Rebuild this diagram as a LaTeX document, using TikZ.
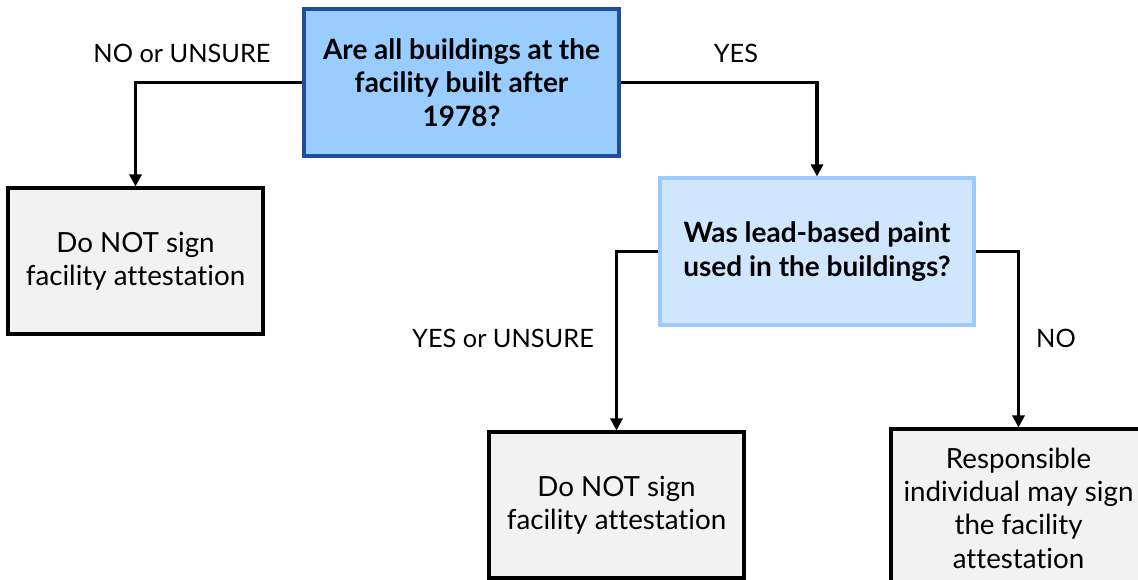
\documentclass[tikz,border=0pt]{standalone}
\usepackage{fontspec}
\setmainfont{Lato}[Ligatures={NoCommon,NoRare,NoContextual}]
\usetikzlibrary{arrows.meta}
\definecolor{qfill}{HTML}{99CCFF}
\definecolor{qdraw}{HTML}{1F4E9C}
\definecolor{q2fill}{HTML}{D0E6FF}
\definecolor{q2draw}{HTML}{9CCBFA}
\definecolor{gfill}{HTML}{F2F2F2}
\tikzset{
  box/.style={rectangle, line width=2.3pt, minimum width=255*0.75pt, minimum height=146*0.75pt, align=center, inner sep=2pt, font=\fontsize{20.8}{25}\selectfont},
  qbox/.style={box, fill=qfill, draw=qdraw, minimum width=315*0.75pt, minimum height=147*0.75pt, font=\bfseries\fontsize{21}{25.2}\selectfont},
  q2box/.style={box, fill=q2fill, draw=q2draw, minimum width=314*0.75pt, minimum height=147*0.75pt, font=\bfseries\fontsize{21}{25.2}\selectfont},
  gbox/.style={box, fill=gfill, draw=black},
  conn/.style={line width=2.4pt, -{Triangle[length=9pt,width=9pt]}},
  lab/.style={font=\fontsize{19}{22}\selectfont, inner sep=0pt}
}
\begin{document}
\begin{tikzpicture}[x=0.75pt,y=-0.75pt]
\useasboundingbox (0,0) rectangle (1138,580);
\node[qbox] (q1) at (461.5,82.5) {Are all buildings at the\\facility built after\\1978?};
\node[gbox] (n1) at (135.5,261) {Do NOT sign\\facility attestation};
\node[q2box] (q2) at (817,251.5) {Was lead-based paint\\used in the buildings?};
\node[gbox] (n2) at (616.5,505) {Do NOT sign\\facility attestation};
\node[gbox, minimum height=158*0.75pt] (y2) at (1018.5,508) {Responsible\\individual may sign\\the facility\\attestation};
\draw[conn] (q1.west) -| (n1.north);
\draw[conn] (q1.east) -| (q2.north);
\draw[conn] (q2.west) -| (n2.north);
\draw[conn] (q2.east) -| (y2.north);
\node[lab] (l1) at (182,53) {NO or UNSURE};
\node[lab] (l2) at (736,53) {YES};
\node[lab] (l3) at (503,338) {YES or UNSURE};
\node[lab] (l4) at (1056,338) {NO};
\end{tikzpicture}
\end{document}
